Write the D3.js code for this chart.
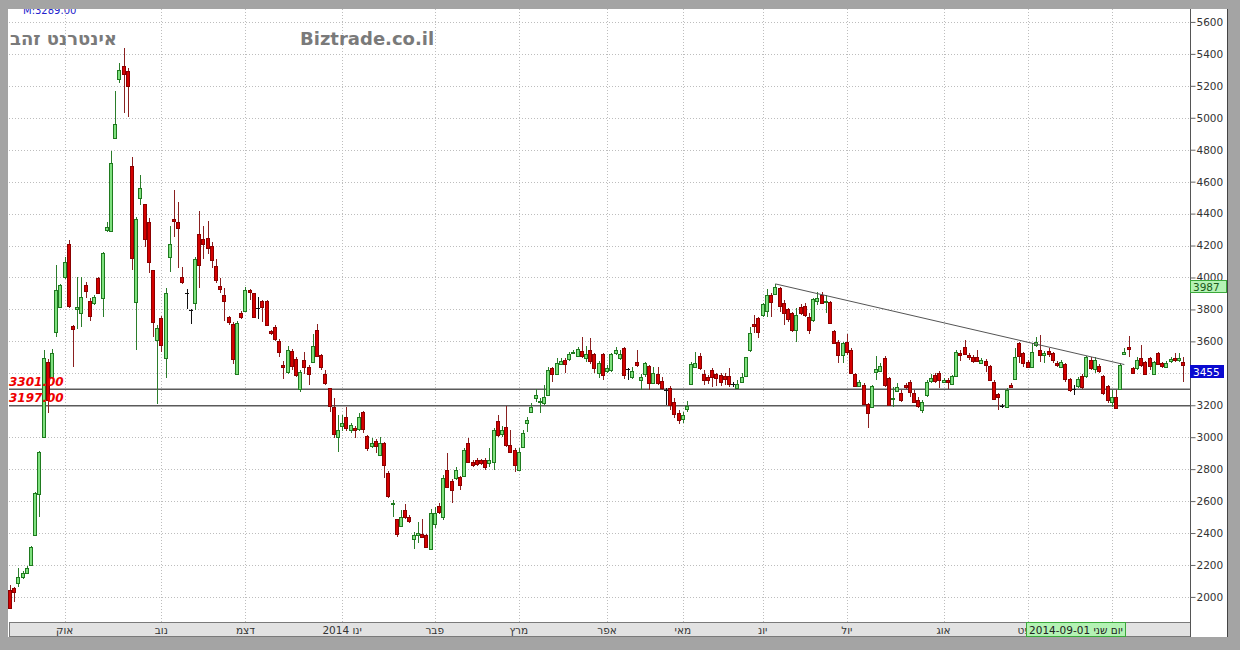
<!DOCTYPE html>
<html><head><meta charset="utf-8">
<script src="https://cdn.jsdelivr.net/npm/d3@7"></script>
<style>
html,body{margin:0;padding:0;background:#a4a4a4;}
svg{display:block;}
</style></head><body>
<svg id="c" width="1240" height="650"></svg>
<script>
// ---- data (daily candles, mid-Sep 2013 .. Oct 2014) ----
const openV = [
2045,2056,2088,2125,2150,2200,2390,2645,3002,3471,3380,3660,3818,
4005,4210,3697,3800,3780,3953,3855,3843,3997,3875,4298,4290,4872,5241,5324,5295,4696,3843,4496,4458,4346,4047,3610,
3747,3495,4127,4366,4350,4002,3905,3798,3843,4275,4241,4245,4200,4070,3945,3889,3752,3711,3400,3775,
3791,3923,3900,3812,3855,3855,3666,3689,3605,3452,3404,3541,3491,3306,3484,3442,3473,3672,3515,3396,3306,3192,3000,
3066,3125,3046,3056,3056,3160,3008,2941,2979,2889,2962,2774,2578,2486,2445,2545,2499,2361,2390,2394,2388,2298,
2457,2570,2499,2795,2728,2743,2753,2758,2966,2847,2858,2858,2858,2840,2847,3104,3020,3066,2952,2920,
2799,2941,3087,3160,3244,3218,3217,3265,3432,3396,3463,3484,3488,3530,3505,3542,3494,3546,3521,3400,3521,
3411,3421,3530,3494,3557,3425,3380,3473,3363,3396,3446,3342,3396,3352,3298,3306,3223,3150,
3112,3175,3334,3438,3509,3396,3375,3421,3394,3390,3384,3384,3334,3306,3348,3380,3546,3709,3745,
3765,3793,3891,3897,3932,3839,3801,3776,3672,3813,3822,3755,3734,3849,3891,3849,3849,3667,3599,3515,
3599,3546,3396,3321,3327,3208,3191,3405,3417,3494,3369,3240,3292,3275,3327,3348,3279,3233,3171,3264,3348,3390,3400,
3348,3359,3333,3384,3530,3567,3515,3500,3504,3467,3479,3446,3348,3271,3194,3191,3327,3369,3588,3525,
3473,3442,3577,3546,3515,3542,3525,3467,3442,3459,3363,3300,3317,3384,3379,3484,3425,3446,3384,3321,
3223,3254,3300,3521,3563,3431,3431,3494,3473,3494,3400,3525,3463,3442,3473,3494,3479,3473];
const highV = [
2075,2060,2180,2165,2195,2320,2660,2915,3546,3490,3550,4080,3960,
4130,4235,3700,4000,4005,3970,3870,3890,4005,4160,4345,4795,5165,5345,5435,5310,4755,4380,4640,4460,4370,4050,3700,
3760,3937,4320,4548,4475,4065,3925,3800,4130,4416,4320,4354,4220,4116,3998,3934,3760,3720,3725,3790,
3940,3925,3905,3875,3860,3860,3670,3700,3615,3480,3570,3550,3500,3420,3536,3450,3646,3709,3520,3420,3310,3244,3139,
3140,3191,3090,3070,3154,3165,3015,2993,2990,3000,2970,2790,2607,2490,2545,2580,2510,2409,2470,2486,2395,2550,
2560,2586,2764,2903,2740,2816,2760,2930,2993,2860,2870,2866,2870,2930,3060,3140,3070,3196,3046,2930,
2930,3046,3129,3213,3300,3244,3327,3442,3442,3494,3495,3494,3536,3545,3563,3626,3572,3620,3530,3480,3530,
3452,3530,3567,3546,3567,3432,3438,3546,3394,3473,3452,3438,3438,3380,3305,3321,3244,3171,
3160,3229,3473,3536,3530,3421,3390,3432,3405,3400,3400,3432,3348,3359,3400,3500,3693,3765,3751,
3843,3926,3901,3960,3939,3860,3807,3786,3807,3834,3839,3776,3870,3912,3912,3891,3855,3672,3609,3599,
3647,3557,3405,3359,3338,3215,3327,3509,3463,3509,3380,3312,3338,3296,3340,3359,3296,3254,3233,3359,3396,3400,3417,
3369,3369,3390,3546,3546,3609,3525,3515,3546,3494,3490,3452,3359,3275,3210,3306,3338,3557,3599,3536,
3484,3592,3630,3640,3540,3557,3536,3479,3484,3467,3369,3327,3380,3396,3509,3500,3500,3459,3390,3327,
3296,3296,3463,3557,3634,3442,3500,3577,3480,3504,3480,3536,3473,3479,3500,3525,3530,3504];
const lowV = [
1930,1970,2062,2115,2145,2195,2385,2500,3000,3152,3370,3630,3810,
3990,3810,3442,3680,3690,3870,3730,3830,3900,3755,4285,4285,4870,5215,5030,5003,4047,3546,4452,4193,4026,3630,3210,
3536,3371,4036,4252,4060,3957,3800,3707,3798,3934,4116,4150,4060,3968,3900,3730,3700,3457,3395,3740,
3785,3860,3745,3740,3720,3700,3640,3600,3500,3366,3395,3420,3380,3285,3396,3327,3465,3500,3420,3327,3160,2993,2910,
3040,3040,3025,2993,3040,3025,2915,2930,2899,2880,2743,2620,2503,2378,2440,2490,2460,2298,2336,2368,2305,2295,
2430,2520,2482,2680,2590,2735,2670,2750,2840,2815,2820,2825,2795,2815,2795,3000,3000,2940,2900,2785,
2795,2930,3035,3150,3223,3154,3200,3260,3348,3390,3455,3405,3480,3520,3500,3495,3473,3460,3400,3370,3360,
3400,3410,3515,3484,3363,3359,3363,3442,3296,3380,3296,3338,3327,3296,3200,3171,3119,3083,
3087,3160,3334,3432,3421,3327,3334,3317,3321,3321,3327,3317,3313,3300,3338,3375,3536,3651,3620,
3755,3755,3755,3890,3786,3703,3724,3661,3599,3765,3755,3647,3724,3828,3834,3776,3709,3588,3463,3463,
3515,3396,3317,3313,3202,3056,3181,3359,3411,3317,3196,3191,3285,3223,3300,3254,3212,3181,3154,3254,3338,3338,3306,
3338,3300,3327,3380,3475,3515,3484,3463,3473,3463,3411,3354,3233,3171,3181,3191,3306,3359,3463,3442,
3432,3432,3567,3473,3463,3500,3463,3442,3432,3348,3285,3264,3306,3300,3369,3421,3400,3405,3264,3217,
3191,3181,3296,3515,3505,3396,3421,3442,3396,3421,3390,3452,3431,3431,3463,3473,3470,3348];
const closeV = [
1932,2033,2125,2150,2181,2313,2650,2908,3496,3233,3528,3922,3953,
4100,3822,3678,3815,3880,3918,3760,3880,3905,4155,4318,4715,4961,5299,5274,5200,4118,4365,4558,4239,4096,3723,3685,
3578,3903,4207,4355,4310,3973,3905,3798,4116,4082,4207,4184,4110,3980,3927,3850,3718,3491,3718,3752,
3923,3911,3752,3812,3820,3707,3655,3616,3537,3441,3543,3445,3389,3411,3442,3400,3571,3509,3442,3342,3192,3025,3046,
3087,3056,3077,3041,3129,3056,2931,2962,2945,2962,2826,2628,2586,2394,2499,2499,2472,2388,2400,2378,2315,2524,
2524,2534,2743,2690,2674,2795,2701,2920,2847,2826,2833,2837,2816,2856,3046,3014,3046,2952,2910,2826,
2910,3029,3108,3192,3265,3225,3254,3421,3396,3463,3480,3459,3521,3536,3551,3509,3521,3480,3432,3463,3390,
3432,3521,3546,3521,3390,3425,3417,3452,3380,3463,3338,3405,3338,3306,3298,3202,3150,3108,
3139,3196,3459,3463,3432,3359,3359,3375,3369,3348,3363,3334,3334,3334,3380,3500,3651,3697,3655,
3834,3891,3849,3939,3822,3776,3738,3672,3765,3776,3765,3676,3864,3870,3839,3855,3717,3592,3515,3588,
3536,3400,3321,3348,3208,3150,3321,3425,3446,3327,3202,3248,3317,3233,3317,3285,3223,3196,3223,3348,3369,3354,3359,
3359,3348,3384,3536,3520,3525,3500,3473,3479,3484,3452,3359,3244,3250,3194,3296,3312,3504,3504,3463,
3442,3536,3598,3515,3530,3525,3479,3452,3473,3363,3296,3300,3363,3317,3500,3431,3484,3417,3275,3233,
3254,3187,3452,3536,3550,3400,3484,3452,3400,3442,3473,3459,3446,3467,3488,3484,3494,3452];

const monthStarts = [13,36,56,79,101,121,142,160,179,199,222,242,262];
const monthLabels = ["אוק","נוב","דצמ","2014 ינו","פבר","מרץ","אפר","מאי","יונ","יול","אוג","ספט","אוק"];
const yTickValues = d3.range(2000, 5601, 200);
const levelValues = [3301, 3197];
const levelLabels = ["3301.00", "3197.00"];
const trendPoints = [{i: 182, v: 3960}, {i: 265, v: 3455}];
const priceTags = [{v: 3987, label: "3987", kind: "green"}, {v: 3455, label: "3455", kind: "blue"}];
const cursorDate = {i: 242, label: "2014-09-01 יום שני"};
const titleText = "אינטרנט זהב";
const siteText = "Biztrade.co.il";
const mText = "M:3289.00";

// ---- layout ----
const N = openV.length;
const P = {l: 9, r: 1190, t: 9, b: 622};
const x = d3.scaleLinear().domain([0, N - 1]).range([10, 10 + (N - 1) * 4.205]);
const y = d3.scaleLinear().domain([1843, 5681]).range([P.b, P.t]);
const yAxisScale = d3.scaleLinear().domain([1749, 5681]).range([637, P.t]);

const svg = d3.select("#c");
svg.append("rect").attr("x", 0).attr("y", 0).attr("width", 1240).attr("height", 650).attr("fill", "#a4a4a4");
svg.append("rect").attr("x", 8).attr("y", 8).attr("width", 1220).attr("height", 629).attr("fill", "#ffffff");

svg.append("text").attr("x", 23).attr("y", 14).attr("font-family", "DejaVu Sans").attr("font-size", 10)
  .attr("fill", "#2222cc").text(mText);

const gGrid = svg.append("g").attr("shape-rendering", "crispEdges");
gGrid.selectAll("line.h").data(yTickValues).join("line").attr("class", "h")
  .attr("x1", P.l).attr("x2", P.r).attr("y1", d => Math.round(y(d)) + 0.5).attr("y2", d => Math.round(y(d)) + 0.5)
  .attr("stroke", "#bdbdbd").attr("stroke-dasharray", "1,2");
gGrid.selectAll("line.v").data(monthStarts).join("line").attr("class", "v")
  .attr("y1", P.t).attr("y2", P.b).attr("x1", d => Math.round(x(d)) + 0.5).attr("x2", d => Math.round(x(d)) + 0.5)
  .attr("stroke", "#bdbdbd").attr("stroke-dasharray", "1,2");

// titles
svg.append("text").attr("x", 10).attr("y", 45).attr("font-family", "DejaVu Sans").attr("font-weight", "bold")
  .attr("font-size", 18).attr("fill", "#7a7a7a").text(titleText);
svg.append("text").attr("x", 300).attr("y", 45).attr("font-family", "DejaVu Sans").attr("font-weight", "bold")
  .attr("font-size", 18).attr("fill", "#7a7a7a").text(siteText);

// level lines
const gLev = svg.append("g");
gLev.selectAll("line").data(levelValues).join("line")
  .attr("x1", P.l).attr("x2", P.r).attr("y1", d => y(d)).attr("y2", d => y(d))
  .attr("stroke", "#5a5a5a").attr("stroke-width", 1.5);

// candles
const idx = d3.range(N);
const dir = i => closeV[i] > openV[i] ? 1 : (closeV[i] < openV[i] ? -1 : 0);
const wickCol = i => dir(i) > 0 ? "#2b7d2b" : (dir(i) < 0 ? "#8a2020" : "#111111");
const fillCol = i => dir(i) > 0 ? "#7ee07e" : (dir(i) < 0 ? "#d40000" : "#111111");
const strokeCol = i => dir(i) > 0 ? "#1f7a1f" : (dir(i) < 0 ? "#8b0000" : "#111111");
const gC = svg.append("g").attr("shape-rendering", "crispEdges");
gC.selectAll("line").data(idx).join("line")
  .attr("x1", i => Math.round(x(i)) + 0.5).attr("x2", i => Math.round(x(i)) + 0.5)
  .attr("y1", i => y(highV[i])).attr("y2", i => y(lowV[i]))
  .attr("stroke", wickCol).attr("stroke-width", 1);
gC.selectAll("rect").data(idx).join("rect")
  .attr("x", i => Math.round(x(i)) - 1.5)
  .attr("y", i => Math.round(y(Math.max(openV[i], closeV[i]))) + 0.5)
  .attr("width", 3)
  .attr("height", i => Math.max(0.01, Math.round(Math.abs(y(openV[i]) - y(closeV[i])))))
  .attr("fill", fillCol).attr("stroke", strokeCol).attr("stroke-width", 1);

// trend line
svg.append("line").attr("x1", x(trendPoints[0].i)).attr("y1", y(trendPoints[0].v))
  .attr("x2", x(trendPoints[1].i)).attr("y2", y(trendPoints[1].v))
  .attr("stroke", "#555").attr("stroke-width", 1);

// level labels
svg.append("g").selectAll("text").data(levelValues).join("text")
  .attr("x", 9).attr("y", d => y(d) - 3.5)
  .attr("font-family", "DejaVu Sans").attr("font-weight", "bold").attr("font-style", "italic")
  .attr("font-size", 12).attr("fill", "#ee0000").text((d, k) => levelLabels[k]);

// x-axis strip
svg.append("rect").attr("x", P.l).attr("y", P.b + 0.5).attr("width", P.r - P.l).attr("height", 14)
  .attr("fill", "#e2e2e2").attr("stroke", "#7a7a7a").attr("stroke-width", 1).attr("shape-rendering", "crispEdges");
const cdx = Math.round(x(cursorDate.i)) - 1.5;
const cdw = 99;
// month labels (those entirely hidden behind the cursor-date box are not drawn)
const visibleMonths = monthStarts.map((d, k) => ({d, k})).filter(o => !(x(o.d) - 8 > cdx && x(o.d) + 8 < cdx + cdw));
svg.append("g").selectAll("text").data(visibleMonths).join("text")
  .attr("x", o => x(o.d)).attr("y", 634).attr("text-anchor", "middle")
  .attr("font-family", "DejaVu Sans").attr("font-size", 10.5).attr("fill", "#333")
  .text(o => monthLabels[o.k]);
// cursor date label
svg.append("rect").attr("x", cdx).attr("y", P.b + 0.5).attr("width", cdw).attr("height", 14)
  .attr("fill", "#b4f2b4").attr("stroke", "#3aa83a").attr("shape-rendering", "crispEdges");
svg.append("text").attr("x", cdx + cdw / 2).attr("y", 634).attr("text-anchor", "middle")
  .attr("font-family", "DejaVu Sans").attr("font-size", 10.5).attr("fill", "#222").text(cursorDate.label);

// right axis (labels hidden behind the price tags are not drawn)
const hiddenByTag = v => priceTags.some(t => y(v) > y(t.v) + 2 && y(v) < y(t.v) + 12);
const gAx = svg.append("g").attr("transform", `translate(${P.r + 0.5},0)`);
gAx.call(d3.axisRight(yAxisScale).tickValues(d3.range(1760, 5681, 40)).tickSize(3).tickFormat(""));
gAx.call(d3.axisRight(yAxisScale).tickValues(yTickValues).tickSize(5)
  .tickFormat(v => hiddenByTag(v) ? "" : d3.format("d")(v)));
gAx.selectAll(".domain").attr("stroke", "#555");
gAx.selectAll(".tick line").attr("stroke", "#666");
gAx.selectAll(".tick text").attr("font-family", "DejaVu Sans").attr("font-size", 10.5).attr("fill", "#333").attr("x", 6);
gAx.select(".domain").attr("d", `M0,${P.t}V637`);

// price tags
const tagG = svg.append("g").selectAll("g").data(priceTags).join("g");
tagG.append("rect").attr("x", P.r + 0.5).attr("y", d => Math.round(y(d.v)) + 0.5).attr("width", d => d.kind === "green" ? 36 : 33).attr("height", 12)
  .attr("fill", d => d.kind === "green" ? "#b4f2b4" : "#0a0ad0")
  .attr("stroke", d => d.kind === "green" ? "#3aa83a" : "#0a0ad0").attr("shape-rendering", "crispEdges");
tagG.append("text").attr("x", P.r + 3).attr("y", d => Math.round(y(d.v)) + 11)
  .attr("font-family", "DejaVu Sans").attr("font-size", 10.5)
  .attr("fill", d => d.kind === "green" ? "#1a5a1a" : "#ffffff").text(d => d.label);

// outer frame lines
svg.append("line").attr("x1", 1227.5).attr("x2", 1227.5).attr("y1", 8).attr("y2", 637).attr("stroke", "#444");
svg.append("rect").attr("x", 0).attr("y", 0).attr("width", 1240).attr("height", 9).attr("fill", "#a4a4a4");
</script>
</body></html>
